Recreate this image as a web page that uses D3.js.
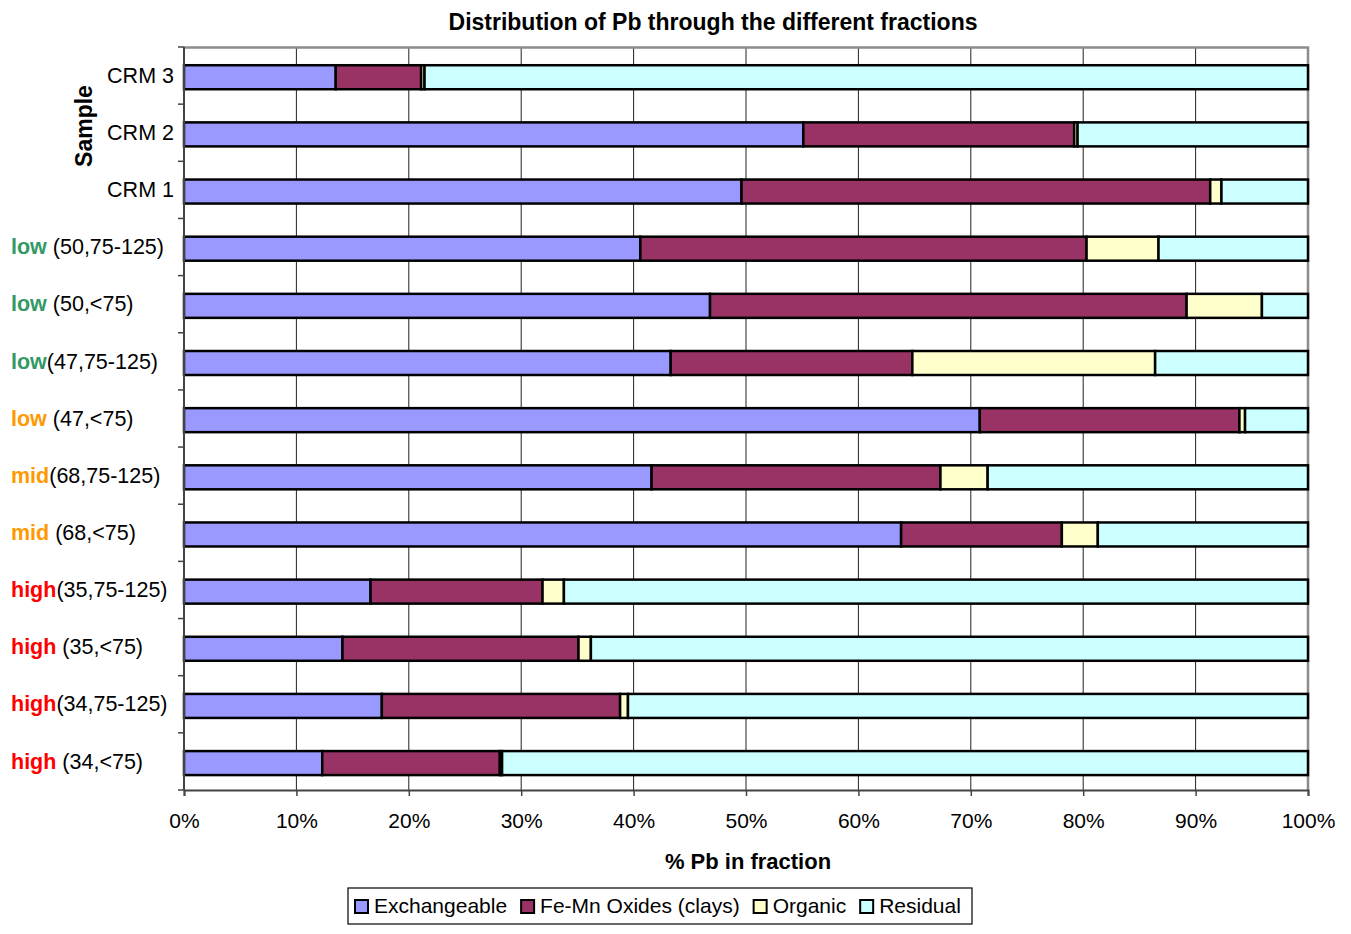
<!DOCTYPE html>
<html>
<head>
<meta charset="utf-8">
<script src="https://cdn.jsdelivr.net/npm/d3@7"></script>
<style>
  body { margin: 0; background: #fff; }
  text { font-family: "Liberation Sans", Arial, sans-serif; }
</style>
</head>
<body>
<script>
// ---- data (top to bottom) ----
var levels  = ["", "", "", "low", "low", "low", "low", "mid", "mid", "high", "high", "high", "high"];
var samples = ["CRM 3", "CRM 2", "CRM 1", " (50,75-125)", " (50,<75)", "(47,75-125)", " (47,<75)",
               "(68,75-125)", " (68,<75)", "(35,75-125)", " (35,<75)", "(34,75-125)", " (34,<75)"];
var fractions = ["Exchangeable", "Fe-Mn Oxides (clays)", "Organic", "Residual"];
var exchangeable = [13.5, 55.1, 49.6, 40.6, 46.8, 43.3, 70.8, 41.6, 63.8, 16.6, 14.1, 17.6, 12.3];
var feMnOxides   = [7.6, 24.1, 41.7, 39.7, 42.4, 21.5, 23.1, 25.7, 14.3, 15.3, 21.0, 21.2, 15.8];
var organic      = [0.3, 0.3, 1.0, 6.4, 6.7, 21.6, 0.5, 4.2, 3.2, 1.9, 1.1, 0.7, 0.2];
var residual     = [78.6, 20.5, 7.7, 13.3, 4.1, 13.6, 5.6, 28.5, 18.7, 66.2, 63.8, 60.5, 71.7];
var xTicks = [0, 10, 20, 30, 40, 50, 60, 70, 80, 90, 100];
var colors = ["#9999FF", "#993366", "#FFFFCC", "#CCFFFF"];

// level -> colour  (row 6 "low (47,<75)" is orange in the original)
var levelColor = {low: "#339966", mid: "#FF9900", high: "#FF0000"};
var labelColorByRow = levels.map(function(l, i) { return i == 6 ? "#FF9900" : (levelColor[l] || "#000"); });

var W = 1351, H = 934;
var margin = {left: 184, right: 43, top: 47, bottom: 144};
var width = W - margin.left - margin.right,
    height = H - margin.top - margin.bottom;

var svg = d3.select("body").append("svg")
    .attr("width", W).attr("height", H);

var g = svg.append("g")
    .attr("transform", "translate(" + margin.left + "," + margin.top + ")");

var x = d3.scaleLinear().domain([0, 100]).range([0, width]);
var y = d3.scaleBand().domain(d3.range(samples.length)).range([0, height]).paddingInner(0.58).paddingOuter(0.29).align(0.55);

// gridlines
g.selectAll("line.grid")
    .data(xTicks.slice(1, -1))
    .join("line")
    .attr("class", "grid")
    .attr("x1", function(d) { return x(d); })
    .attr("x2", function(d) { return x(d); })
    .attr("y1", 0).attr("y2", height)
    .attr("stroke", "#222").attr("stroke-width", 1);

// plot border top/right
g.append("path")
    .attr("d", "M0,0.5H" + width + "V" + height)
    .attr("fill", "none").attr("stroke", "#8c8c8c").attr("stroke-width", 2.5);

// stack data
var rows = samples.map(function(s, i) {
    return {i: i, Exchangeable: exchangeable[i], "Fe-Mn Oxides (clays)": feMnOxides[i], Organic: organic[i], Residual: residual[i]};
});
var stack = d3.stack().keys(fractions)(rows);

g.selectAll("g.series")
    .data(stack)
    .join("g")
    .attr("class", "series")
    .attr("fill", function(d, k) { return colors[k]; })
    .selectAll("rect")
    .data(function(d) { return d; })
    .join("rect")
    .attr("x", function(d) { return x(d[0]); })
    .attr("width", function(d) { return x(d[1]) - x(d[0]); })
    .attr("y", function(d) { return y(d.data.i); })
    .attr("height", y.bandwidth())
    .attr("stroke", "#000")
    .attr("stroke-width", 2.5);

// y axis
var yBoundaries = d3.range(samples.length + 1).map(function(k) { return k * y.step(); });
g.append("line")
    .attr("x1", 0).attr("x2", 0).attr("y1", 0).attr("y2", height)
    .attr("stroke", "#444").attr("stroke-width", 2);
g.selectAll("line.ytick")
    .data(yBoundaries)
    .join("line")
    .attr("class", "ytick")
    .attr("x1", -6).attr("x2", 0)
    .attr("y1", function(d) { return d; }).attr("y2", function(d) { return d; })
    .attr("stroke", "#444").attr("stroke-width", 1.5);

// x axis
var xAxis = g.append("g")
    .attr("transform", "translate(0," + height + ")")
    .call(d3.axisBottom(x).tickValues(xTicks).tickSize(6).tickPadding(17)
          .tickFormat(function(d) { return d + "%"; }));
xAxis.select(".domain").attr("stroke", "#444").attr("stroke-width", 2);
xAxis.selectAll(".tick line").attr("stroke", "#444").attr("stroke-width", 1.5);
xAxis.selectAll(".tick text")
    .attr("font-size", "21px").attr("fill", "#000")
    .style("font-family", "'Liberation Sans', Arial, sans-serif");

// category labels
var labels = svg.selectAll("text.cat")
    .data(samples)
    .join("text")
    .attr("class", "cat")
    .attr("font-size", "21.5px")
    .attr("dy", "0.35em")
    .attr("x", function(d, i) { return levels[i] ? 11 : 174; })
    .attr("y", function(d, i) { return margin.top + y(i) + y.bandwidth() / 2 - 2; })
    .attr("text-anchor", function(d, i) { return levels[i] ? "start" : "end"; });
labels.append("tspan")
    .attr("font-weight", "bold")
    .attr("fill", function(d, i) { return labelColorByRow[i]; })
    .text(function(d, i) { return levels[i]; });
labels.append("tspan")
    .attr("fill", "#000")
    .style("white-space", "pre")
    .attr("xml:space", "preserve")
    .text(function(d) { return d; });

// titles
svg.append("text")
    .attr("x", 713).attr("y", 30)
    .attr("text-anchor", "middle")
    .attr("font-size", "23px").attr("font-weight", "bold")
    .text("Distribution of Pb through the different fractions");

svg.append("text")
    .attr("x", margin.left + width / 2 + 2).attr("y", 869)
    .attr("text-anchor", "middle")
    .attr("font-size", "22px").attr("font-weight", "bold")
    .text("% Pb in fraction");

svg.append("text")
    .attr("transform", "translate(92,126) rotate(-90)")
    .attr("text-anchor", "middle")
    .attr("font-size", "23px").attr("font-weight", "bold")
    .text("Sample");

// legend
var legend = svg.append("g").attr("transform", "translate(348,888)");
legend.append("rect")
    .attr("width", 624).attr("height", 36)
    .attr("fill", "#fff").attr("stroke", "#000").attr("stroke-width", 1.2);
var item = legend.selectAll("g.item")
    .data(fractions)
    .join("g")
    .attr("class", "item");
item.append("rect")
    .attr("x", 0).attr("y", 12).attr("width", 13).attr("height", 13)
    .attr("fill", function(d, k) { return colors[k]; })
    .attr("stroke", "#000").attr("stroke-width", 2);
item.append("text")
    .attr("x", 19).attr("y", 18).attr("dy", "0.35em")
    .attr("font-size", "21px")
    .text(function(d) { return d; });
// lay items out one after another
var cursor = 7;
item.each(function() {
    var node = d3.select(this);
    node.attr("transform", "translate(" + cursor + ",0)");
    cursor += 19 + node.select("text").node().getComputedTextLength() + 14;
});
</script>
</body>
</html>
